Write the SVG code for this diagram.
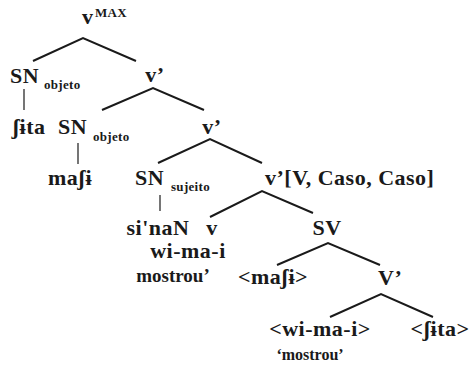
<svg xmlns="http://www.w3.org/2000/svg" width="475" height="366" viewBox="0 0 475 366">
<style>
text{font-family:"Liberation Serif","Times New Roman",serif;font-weight:bold;fill:#1a1a1a}
.n{font-size:22px;letter-spacing:0.5px}
.s{font-size:13px;letter-spacing:0.3px}
.g1{font-size:19px}
.g2{font-size:16px}
.m{text-anchor:middle}
.e path{fill:none;stroke:#1a1a1a;stroke-width:2}
.e line{stroke:#1a1a1a;stroke-width:1.2}
</style>
<rect width="475" height="366" fill="#fff"/>
<g class="e" id="edges">
<path d="M33 61 L83 38 L136 61"/>
<line x1="24" y1="89" x2="24" y2="110"/>
<path d="M102 110 L153 88 L204 110"/>
<line x1="78" y1="143" x2="78" y2="164"/>
<path d="M158 163 L210 139 L262 163"/>
<line x1="160" y1="195" x2="160" y2="211"/>
<path d="M210 217 L262 191 L313 213"/>
<path d="M277 265 L328 243 L380 265"/>
<path d="M330 317 L381 294 L433 317"/>
</g>
<g id="vmax"><text class="n" x="82" y="24">v</text><text class="s" x="95" y="17">MAX</text></g>
<g id="sn1"><text class="n" x="10" y="83">SN</text><text class="s" x="44" y="89">objeto</text></g>
<g id="vbar1"><text class="n m" x="155" y="82">v’</text></g>
<g id="sita"><text class="n m" x="29" y="134">ʃɨta</text></g>
<g id="sn2"><text class="n" x="58" y="134">SN</text><text class="s" x="93" y="141">objeto</text></g>
<g id="vbar2"><text class="n m" x="212" y="134">v’</text></g>
<g id="masi"><text class="n m" x="70" y="185">maʃɨ</text></g>
<g id="sn3"><text class="n" x="135" y="185">SN</text><text class="s" x="171" y="191">sujeito</text></g>
<g id="vbar3"><text class="n" x="265" y="185">v’[V, Caso, Caso]</text></g>
<g id="sinan"><text class="n m" x="158" y="235">si'naN</text></g>
<g id="v"><text class="n m" x="212" y="235">v</text>
<text class="n m" x="188" y="258">wi-ma-i</text>
<text class="g1 m" x="173" y="282">mostrou’</text></g>
<g id="sv"><text class="n m" x="327" y="235">SV</text></g>
<g id="masi2"><text class="n m" x="273" y="284">&lt;maʃɨ&gt;</text></g>
<g id="vbar4"><text class="n" x="378" y="285">V’</text></g>
<g id="wimai"><text class="n m" x="320" y="336">&lt;wi-ma-i&gt;</text>
<text class="g2 m" x="310" y="360">‘mostrou’</text></g>
<g id="sita2"><text class="n m" x="440" y="336">&lt;ʃɨta&gt;</text></g>
</svg>
